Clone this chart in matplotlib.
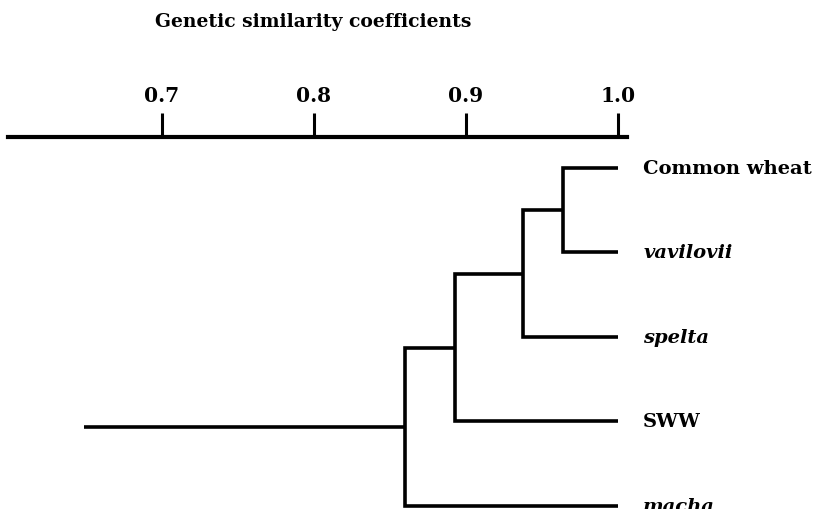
import matplotlib
matplotlib.use("Agg")
import matplotlib.pyplot as plt

# ---- data ----
leaves = ["Common wheat", "vavilovii", "spelta", "SWW", "macha"]
leaf_italic = [False, True, True, False, True]
# merges: (child_a, child_b, similarity); children: leaf index or "n<k>" for k-th merge
merges = [(0, 1, 0.964), ("n0", 2, 0.9375), ("n1", 3, 0.893), ("n2", 4, 0.860)]
root_start = 0.649
ticks = [0.7, 0.8, 0.9, 1.0]
tick_labels = ["0.7", "0.8", "0.9", "1.0"]
title = "Genetic similarity coefficients"

W, H = 819, 510
fig = plt.figure(figsize=(W / 100, H / 100), dpi=100)
ax = fig.add_axes([8 / W, 0, (627 - 8) / W, (510 - 138) / H])
ax.set_xlim(0.5987, 1.0059)
ax.set_ylim(4.036, -0.367)

for s in ["bottom", "left", "right"]:
    ax.spines[s].set_visible(False)
ax.spines["top"].set_linewidth(3.0)
ax.xaxis.tick_top()
ax.set_xticks(ticks)
ax.set_xticklabels(tick_labels, fontfamily="DejaVu Serif", fontweight="bold", fontsize=14.5)
ax.tick_params(axis="x", direction="out", length=17, width=2.2, pad=6, color="black")
ax.set_yticks([])

lw = 2.6
pos = {}  # cluster -> (x, y)
for i in range(len(leaves)):
    pos[i] = (1.0, float(i))
for k, (a, b, s) in enumerate(merges):
    xa, ya = pos[a]
    xb, yb = pos[b]
    ax.plot([xa, s, s, xb], [ya, ya, yb, yb], color="black", lw=lw,
            solid_joinstyle="miter", solid_capstyle="butt", clip_on=False)
    pos["n%d" % k] = (s, (ya + yb) / 2)
rx, ry = pos["n%d" % (len(merges) - 1)]
ax.plot([root_start, rx], [ry, ry], color="black", lw=lw, solid_capstyle="butt")

for i, name in enumerate(leaves):
    ax.text(1.0165, i, name, fontfamily="DejaVu Serif", fontweight="bold",
            fontstyle="italic" if leaf_italic[i] else "normal",
            fontsize=14, va="center", ha="left", clip_on=False)

fig.text(313.5 / W, 1 - 22 / H, title, fontfamily="DejaVu Serif", fontweight="bold",
         fontsize=13.5, ha="center", va="center")

fig.savefig("out.png", dpi=100, facecolor="white")
